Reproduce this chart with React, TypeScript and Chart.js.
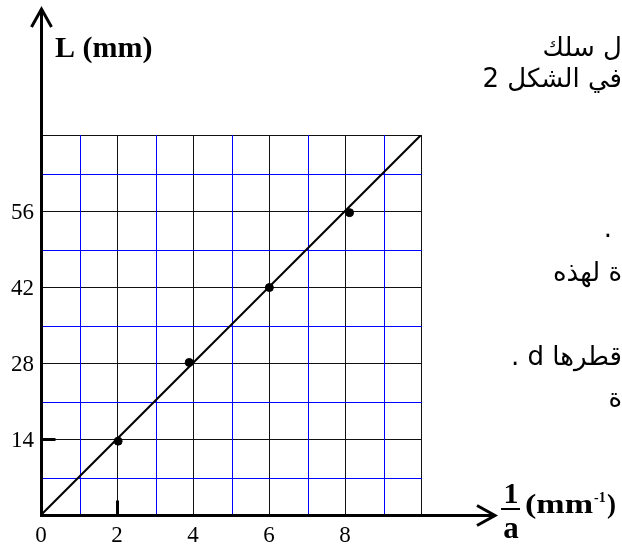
import React, { useEffect, useRef } from "react";
import { Chart, registerables } from "chart.js";

Chart.register(...registerables);

// ---- data ----
const xTickLabels = [0, 2, 4, 6, 8];
const yTickLabels = [14, 28, 42, 56];
const invA = [2.03, 3.9, 6.01, 8.12];
const lengthMm = [13.6, 28.1, 41.9, 55.7];
const fitX = [0, 10];
const fitY = [0, 70];
const xMax = 10;
const yMax = 70;
const xStep = 1;
const yStep = 7;
const yTitle = "L (mm)";
const arabicLines = [
  { text: "ل سلك", top: 34, right: 0 },
  { text: "في الشكل 2", top: 65, right: 0 },
  { text: ".", top: 215, right: 10 },
  { text: "ة لهذه", top: 259, right: 0 },
  { text: "قطرها d .", top: 343, right: 0 },
  { text: "ة", top: 385, right: 0 },
];

const SERIF = '"Liberation Serif", "Times New Roman", serif';
const BLACK_GRID = "#111111";
const BLUE_GRID = "#0000ff";

function drawStretched(ctx: CanvasRenderingContext2D, text: string, x: number, y: number, w: number) {
  const m = ctx.measureText(text).width;
  ctx.save();
  ctx.translate(x, y);
  ctx.scale(w / m, 1);
  ctx.textAlign = "left";
  ctx.fillText(text, 0, 0);
  ctx.restore();
}

// crisp 1px line position; blue lines kept on even pixels so their colour survives image encoding
function snap(p: number, even: boolean) {
  return (even ? 2 * Math.round(p / 2) : Math.round(p)) + 0.5;
}

const gridPlugin = {
  id: "paperGrid",
  beforeDatasetsDraw(chart: any) {
    const { ctx, chartArea } = chart;
    const xs = chart.scales.x;
    const ys = chart.scales.y;
    ctx.save();
    ctx.lineWidth = 1;
    const nx = Math.round(xMax / xStep);
    const ny = Math.round(yMax / yStep);
    for (const pass of [0, 1]) {
      const blue = pass === 1;
      ctx.strokeStyle = blue ? BLUE_GRID : BLACK_GRID;
      for (let i = 0; i <= nx; i++) {
        if (i % 2 !== pass) continue;
        const px = snap(xs.getPixelForValue(i * xStep), blue);
        ctx.beginPath();
        ctx.moveTo(px, chartArea.top);
        ctx.lineTo(px, chartArea.bottom);
        ctx.stroke();
      }
      for (let i = 0; i <= ny; i++) {
        if (i % 2 !== pass) continue;
        const py = snap(ys.getPixelForValue(i * yStep), blue);
        ctx.beginPath();
        ctx.moveTo(chartArea.left, py);
        ctx.lineTo(chartArea.right + 1, py);
        ctx.stroke();
      }
    }
    ctx.restore();
  },
};

const decorPlugin = {
  id: "decor",
  afterDraw(chart: any) {
    const { ctx } = chart;
    const xs = chart.scales.x;
    const ys = chart.scales.y;
    const x0 = xs.getPixelForValue(0) + 0.5;
    const y0 = ys.getPixelForValue(0) + 0.5;
    ctx.save();
    ctx.strokeStyle = "#000";
    ctx.fillStyle = "#000";
    ctx.lineWidth = 3;
    ctx.lineCap = "butt";
    ctx.lineJoin = "miter";
    // y axis
    ctx.beginPath();
    ctx.moveTo(x0, y0 + 1.5);
    ctx.lineTo(x0, 10);
    ctx.stroke();
    ctx.beginPath();
    ctx.moveTo(x0 - 10, 27);
    ctx.lineTo(x0, 9);
    ctx.lineTo(x0 + 10, 27);
    ctx.stroke();
    // x axis
    ctx.beginPath();
    ctx.moveTo(x0 - 1.5, y0);
    ctx.lineTo(493, y0);
    ctx.stroke();
    ctx.beginPath();
    ctx.moveTo(477, y0 - 10);
    ctx.lineTo(495, y0);
    ctx.lineTo(477, y0 + 10);
    ctx.stroke();
    // small tick marks
    const t14 = Math.round(ys.getPixelForValue(yTickLabels[0])) + 0.5;
    ctx.beginPath();
    ctx.moveTo(x0, t14);
    ctx.lineTo(x0 + 14, t14);
    ctx.stroke();
    const t2 = Math.round(xs.getPixelForValue(xTickLabels[1])) + 0.5;
    ctx.beginPath();
    ctx.moveTo(t2, y0);
    ctx.lineTo(t2, y0 - 15);
    ctx.stroke();
    // tick labels
    ctx.font = "23px " + SERIF;
    ctx.textBaseline = "alphabetic";
    ctx.textAlign = "center";
    xTickLabels.forEach((v) => ctx.fillText(String(v), xs.getPixelForValue(v), 542));
    ctx.textAlign = "right";
    yTickLabels.forEach((v) => ctx.fillText(String(v), 34, ys.getPixelForValue(v) + 8));
    // y title
    ctx.font = "bold 30px " + SERIF;
    ctx.textAlign = "left";
    ctx.fillText(yTitle, 55, 57);
    // x title: 1/a (mm-1)
    ctx.textAlign = "center";
    ctx.font = "bold 30px " + SERIF;
    ctx.fillText("1", 511, 503);
    ctx.font = "bold 31px " + SERIF;
    ctx.fillText("a", 511, 538);
    ctx.fillRect(501, 508, 19, 2);
    ctx.font = "bold 27px " + SERIF;
    drawStretched(ctx, "(mm", 525, 513, 68);
    ctx.font = "bold 14px " + SERIF;
    ctx.textAlign = "left";
    ctx.fillText("-1", 594, 502);
    ctx.font = "bold 27px " + SERIF;
    ctx.fillText(")", 607, 513);
    ctx.restore();
  },
};

export default function App() {
  const ref = useRef<HTMLCanvasElement>(null);
  useEffect(() => {
    if (!ref.current) return;
    const chart = new Chart(ref.current, {
      type: "scatter",
      data: {
        datasets: [
          {
            type: "line",
            data: fitX.map((x, i) => ({ x, y: fitY[i] })),
            borderColor: "#000",
            borderWidth: 2,
            pointRadius: 0,
            fill: false,
          } as any,
          {
            type: "scatter",
            data: invA.map((x, i) => ({ x, y: lengthMm[i] })),
            backgroundColor: "#000",
            borderColor: "#000",
            pointRadius: 4,
          },
        ],
      },
      options: {
        responsive: false,
        animation: false,
        devicePixelRatio: 1,
        layout: { autoPadding: false, padding: { left: 41, right: 201, top: 135, bottom: 30 } },
        plugins: { legend: { display: false }, tooltip: { enabled: false } },
        scales: {
          x: {
            type: "linear",
            min: 0,
            max: xMax,
            ticks: { display: false, stepSize: xStep },
            grid: { display: false, drawTicks: false },
            border: { display: false },
          },
          y: {
            type: "linear",
            min: 0,
            max: yMax,
            ticks: { display: false, stepSize: yStep },
            grid: { display: false, drawTicks: false },
            border: { display: false },
          },
        },
      } as any,
      plugins: [gridPlugin, decorPlugin],
    });
    return () => chart.destroy();
  }, []);

  return (
    <div style={{ position: "fixed", left: 0, top: 0, width: 622, height: 545, background: "#fff", overflow: "hidden" }}>
      <canvas ref={ref} width={622} height={545} style={{ display: "block", width: 622, height: 545 }} />
      {arabicLines.map((l, i) => (
        <div
          key={i}
          dir="rtl"
          style={{
            position: "absolute",
            top: l.top,
            right: l.right,
            fontFamily: '"DejaVu Sans", serif',
            fontSize: 26,
            lineHeight: "26px",
            whiteSpace: "nowrap",
            color: "#000",
          }}
        >
          {l.text}
        </div>
      ))}
    </div>
  );
}
